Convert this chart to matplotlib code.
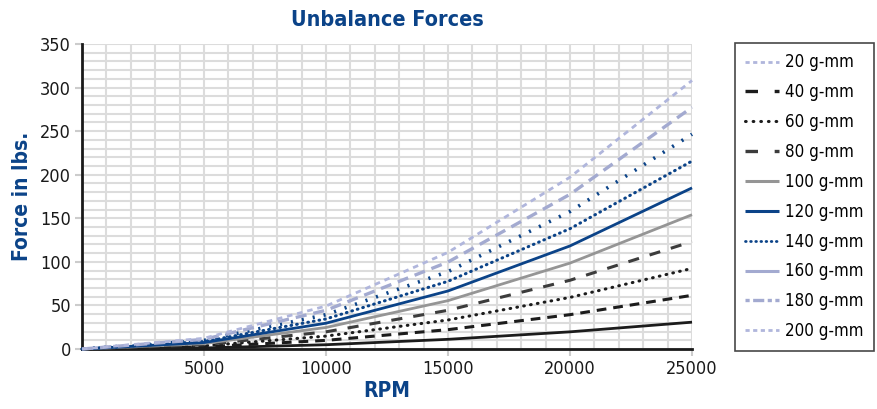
import matplotlib
matplotlib.use("Agg")
import matplotlib.pyplot as plt
from matplotlib.lines import Line2D
from matplotlib.ticker import MultipleLocator

# ------------------------------------------------------------
# Donnees
# ------------------------------------------------------------
rpm = [0, 5000, 10000, 15000, 20000, 25000]

labels = ["20 g-mm", "40 g-mm", "60 g-mm", "80 g-mm", "100 g-mm",
          "120 g-mm", "140 g-mm", "160 g-mm", "180 g-mm", "200 g-mm"]

f20 = [0, 1.2, 4.9, 11.1, 19.7, 30.8]
f40 = [0, 2.5, 9.9, 22.2, 39.4, 61.6]
f60 = [0, 3.7, 14.8, 33.3, 59.2, 92.5]
f80 = [0, 4.9, 19.7, 44.4, 78.9, 123.3]
f100 = [0, 6.2, 24.7, 55.5, 98.6, 154.1]
f120 = [0, 7.4, 29.6, 66.6, 118.3, 184.9]
f140 = [0, 8.6, 34.5, 77.7, 138.1, 215.7]
f160 = [0, 9.9, 39.4, 88.8, 157.8, 246.5]
f180 = [0, 11.1, 44.4, 99.8, 177.5, 277.4]
f200 = [0, 12.3, 49.3, 110.9, 197.2, 308.2]

series = [f20, f40, f60, f80, f100, f120, f140, f160, f180, f200]

# ------------------------------------------------------------
# Styles
# ------------------------------------------------------------
NAVY = "#0b4388"
BLACK = "#1c1c1c"
DGRAY = "#3c3c3c"
GRAY = "#959595"
LAV = "#a3aad0"
LLAV = "#b0b6dc"

plt.rcParams['lines.scale_dashes'] = False
plt.rcParams['font.family'] = ['DejaVu Sans']
plt.rcParams['font.stretch'] = 'condensed'

# couleur, epaisseur, tirets, capstyle (traces)
line_styles = [
    (BLACK, 2.0, None, 'butt'),
    (BLACK, 2.2, (7, 5), 'butt'),
    (BLACK, 2.2, (0.5, 4.5), 'round'),
    (DGRAY, 2.2, (8, 8), 'butt'),
    (GRAY, 2.0, None, 'butt'),
    (NAVY, 2.0, None, 'butt'),
    (NAVY, 2.2, (0.5, 3.6), 'round'),
    (NAVY, 2.6, (1.5, 6.5), 'butt'),
    (LAV, 2.4, (8, 5), 'butt'),
    (LLAV, 2.0, (4, 3.5), 'butt'),
]

# styles de la legende (differents des traces dans l'original)
legend_styles = [
    (LLAV, 2.0, (3, 2.5), 'butt'),
    (BLACK, 2.4, (9, 12), 'butt'),
    (BLACK, 2.2, (0.5, 5), 'round'),
    (DGRAY, 2.4, (9, 12), 'butt'),
    (GRAY, 2.2, None, 'butt'),
    (NAVY, 2.2, None, 'butt'),
    (NAVY, 2.0, (0.5, 3.2), 'round'),
    (LAV, 2.2, None, 'butt'),
    (LAV, 2.4, (3, 2.5, 8, 2.5), 'butt'),
    (LLAV, 2.0, (3, 2.5), 'butt'),
]

# ------------------------------------------------------------
# Figure
# ------------------------------------------------------------
fig = plt.figure(figsize=(8.78, 4.09), dpi=100)
ax = fig.add_axes([0.0934, 0.1467, 0.6948, 0.7457])

for y, (c, lw, d, cap) in zip(series, line_styles):
    ln, = ax.plot(rpm, y, color=c, lw=lw, solid_capstyle=cap,
                  dash_capstyle=cap, clip_on=False, zorder=3)
    if d is not None:
        ln.set_dashes(d)

ax.set_xlim(0, 25000)
ax.set_ylim(0, 350)
ax.xaxis.set_minor_locator(MultipleLocator(1000))
ax.yaxis.set_major_locator(MultipleLocator(50))
ax.yaxis.set_minor_locator(MultipleLocator(10))
ax.set_xticks([5000, 10000, 15000, 20000, 25000])
ax.set_xticklabels(["5000", "10000", "15000", "20000", "25000"])

ax.grid(True, which='both', color='#dcdcdc', lw=1.5, zorder=0)
ax.set_axisbelow(True)

for s in ['top', 'right']:
    ax.spines[s].set_visible(False)
for s in ['left', 'bottom']:
    ax.spines[s].set_color('#1a1a1a')
    ax.spines[s].set_linewidth(2.0)
    ax.spines[s].set_zorder(2)

ax.tick_params(which='major', length=5, width=1.5, color='#cccccc',
               labelsize=13, labelcolor='#1a1a1a', pad=3)
ax.tick_params(which='minor', length=0)

ax.set_xlabel("RPM", fontsize=15, fontweight='bold', color=NAVY, labelpad=2)
ax.set_ylabel("Force in lbs.", fontsize=15, fontweight='bold', color=NAVY,
              labelpad=6)
ax.set_title("Unbalance Forces", fontsize=15.5, fontweight='bold', color=NAVY,
             pad=13)

handles = []
for c, lw, d, cap in legend_styles:
    h = Line2D([], [], color=c, lw=lw, solid_capstyle=cap, dash_capstyle=cap)
    if d is not None:
        h.set_dashes(d)
    handles.append(h)

leg = fig.legend(handles, labels, loc='upper left',
                 bbox_to_anchor=(0.837, 0.895), fontsize=12.2,
                 frameon=True, fancybox=False, edgecolor='#1a1a1a',
                 handlelength=2.0, handletextpad=0.35, labelspacing=0.7,
                 borderpad=0.62, borderaxespad=0)
leg.get_frame().set_linewidth(1.2)

fig.savefig("out.png", dpi=100)
